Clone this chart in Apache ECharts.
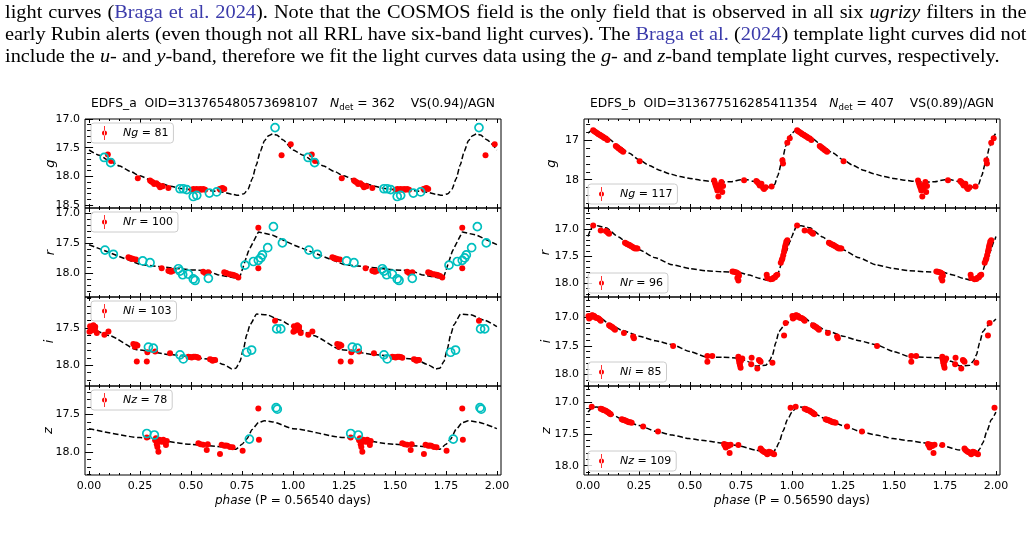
<!DOCTYPE html>
<html>
<head>
<meta charset="utf-8">
<script src="https://cdn.jsdelivr.net/npm/echarts@6/dist/echarts.min.js"></script>
<style>
html, body { margin: 0; padding: 0; background: #fff; width: 1034px; height: 535px; overflow: hidden; }
#chart { position: absolute; left: 0; top: 0; width: 1034px; height: 535px; }
.txt { position: absolute; left: 5px; width: 904px; font-family: 'Liberation Serif', 'DejaVu Serif', serif;
       font-size: 18px; line-height: 22px; color: #000; white-space: nowrap;
       transform: scaleX(1.13); transform-origin: 0 0; }
.j { text-align: justify; text-align-last: justify; }
.c { color: #3b3bab; }
</style>
</head>
<body>
<div id="chart"></div>
<div class="txt j" style="top:1px">light curves (<span class="c">Braga et al. 2024</span>). Note that the COSMOS field is the only field that is observed in all six <i>ugrizy</i> filters in the</div>
<div class="txt j" style="top:23px">early Rubin alerts (even though not all RRL have six-band light curves). The <span class="c">Braga et al.</span> (<span class="c">2024</span>) template light curves did not</div>
<div class="txt" style="top:45px">include the <i>u</i>- and <i>y</i>-band, therefore we fit the light curves data using the <i>g</i>- and <i>z</i>-band template light curves, respectively.</div>
<script>
// ---- phase axis (shared) ----
const PHASE_TICKS = [0, 0.25, 0.5, 0.75, 1, 1.25, 1.5, 1.75, 2];

// ---- EDFS_a, one cycle of phase; plotted twice (phase and phase + 1) ----
const A_G_TICKS = [17.0, 17.5, 18.0, 18.5];
const A_G_TPL = [[0,17.54],[0.05,17.63],[0.1,17.73],[0.15,17.82],[0.2,17.91],[0.25,17.99],[0.3,18.06],[0.35,18.12],[0.4,18.17],[0.45,18.21],[0.5,18.23],[0.55,18.24],[0.6,18.25],[0.65,18.27],[0.7,18.31],[0.73,18.33],[0.76,18.3],[0.78,18.22],[0.8,18.04],[0.82,17.8],[0.84,17.56],[0.86,17.38],[0.88,17.29],[0.9,17.26],[0.92,17.28],[0.95,17.36],[1.0,17.54]];
const A_G_RED = [[0.092,17.62],[0.108,17.73],[0.239,18.03],[0.299,18.07],[0.305,18.09],[0.312,18.1],[0.319,18.13],[0.33,18.12],[0.34,18.15],[0.348,18.19],[0.355,18.17],[0.361,18.17],[0.389,18.2],[0.503,18.23],[0.512,18.22],[0.52,18.23],[0.528,18.22],[0.536,18.23],[0.545,18.22],[0.552,18.23],[0.56,18.22],[0.569,18.23],[0.64,18.22],[0.648,18.21],[0.655,18.2],[0.663,18.22],[0.944,17.63],[0.989,17.44]];
const A_G_CYAN = [[0.074,17.67],[0.106,17.76],[0.446,18.215],[0.462,18.215],[0.479,18.23],[0.511,18.35],[0.528,18.33],[0.59,18.29],[0.626,18.27],[0.912,17.15]];

const A_R_TICKS = [17.0, 17.5, 18.0];
const A_R_TPL = [[0,17.53],[0.25,17.86],[0.5,17.95],[0.58,17.96],[0.63,18.03],[0.71,18.08],[0.74,18.06],[0.78,17.65],[0.83,17.32],[0.9,17.37],[1.0,17.53]];
const A_R_RED = [[0.193,17.74],[0.2,17.75],[0.204,17.76],[0.21,17.76],[0.217,17.77],[0.23,17.775],[0.356,17.92],[0.389,17.965],[0.395,17.97],[0.402,17.98],[0.413,17.965],[0.56,17.98],[0.569,18.0],[0.585,17.99],[0.663,17.99],[0.67,18.0],[0.675,18.005],[0.688,18.02],[0.695,18.025],[0.704,18.03],[0.712,18.04],[0.721,18.05],[0.732,18.075],[0.83,17.25],[0.83,17.92]];
const A_R_CYAN = [[0.078,17.62],[0.119,17.69],[0.263,17.8],[0.299,17.83],[0.438,17.93],[0.446,17.97],[0.459,18.03],[0.487,18.02],[0.511,18.1],[0.52,18.125],[0.585,18.09],[0.765,17.87],[0.806,17.81],[0.83,17.79],[0.842,17.75],[0.85,17.7],[0.876,17.58],[0.904,17.23],[0.948,17.5]];

const A_I_TICKS = [17.5, 18.0];
const A_I_TPL = [[0,17.48],[0.1,17.6],[0.234,17.79],[0.41,17.86],[0.6,17.92],[0.66,17.99],[0.7,18.05],[0.72,18.04],[0.74,17.95],[0.757,17.78],[0.773,17.59],[0.79,17.45],[0.822,17.31],[0.871,17.32],[0.936,17.39],[1.0,17.48]];
const A_I_RED = [[0.002,17.55],[0.005,17.475],[0.01,17.5],[0.013,17.53],[0.021,17.46],[0.029,17.51],[0.03,17.48],[0.038,17.565],[0.075,17.59],[0.095,17.545],[0.217,17.715],[0.225,17.75],[0.23,17.72],[0.237,17.735],[0.234,17.95],[0.283,17.95],[0.286,17.825],[0.324,17.815],[0.397,17.84],[0.487,17.885],[0.495,17.89],[0.503,17.895],[0.512,17.885],[0.52,17.885],[0.528,17.89],[0.536,17.9],[0.593,17.92],[0.6,17.925],[0.606,17.94],[0.612,17.93],[0.618,17.93],[0.912,17.4]];
const A_I_CYAN = [[0.291,17.755],[0.315,17.77],[0.446,17.86],[0.462,17.915],[0.773,17.825],[0.797,17.795],[0.92,17.51],[0.94,17.51]];

const A_Z_TICKS = [17.5, 18.0];
const A_Z_TPL = [[0,17.69],[0.25,17.81],[0.5,17.9],[0.675,17.935],[0.72,17.965],[0.75,17.9],[0.773,17.83],[0.8,17.7],[0.83,17.61],[0.86,17.585],[0.9,17.6],[1.0,17.69]];
const A_Z_RED = [[0.283,17.81],[0.324,17.845],[0.328,17.82],[0.332,17.9],[0.335,17.935],[0.34,18.0],[0.338,17.87],[0.345,17.84],[0.356,17.865],[0.364,17.84],[0.373,17.875],[0.377,17.91],[0.381,17.855],[0.536,17.885],[0.547,17.9],[0.56,17.905],[0.582,17.9],[0.577,17.975],[0.642,18.03],[0.65,17.905],[0.663,17.92],[0.67,17.915],[0.678,17.92],[0.691,17.935],[0.704,17.94],[0.753,17.985],[0.83,17.42],[0.833,17.84]];
const A_Z_CYAN = [[0.283,17.755],[0.32,17.775],[0.786,17.83],[0.917,17.41],[0.923,17.43]];

// ---- EDFS_b ----
const B_G_TICKS = [17, 18];
const B_G_TPL = [[0,16.83],[0.015,16.77],[0.035,16.75],[0.07,16.86],[0.1,16.97],[0.15,17.15],[0.2,17.33],[0.25,17.5],[0.3,17.64],[0.35,17.76],[0.4,17.85],[0.45,17.92],[0.5,17.97],[0.55,18.01],[0.6,18.04],[0.65,18.06],[0.7,18.05],[0.75,18.0],[0.78,18.0],[0.81,18.04],[0.85,18.15],[0.875,18.19],[0.9,18.17],[0.915,18.12],[0.93,17.9],[0.95,17.55],[0.97,17.15],[0.985,16.93],[1.0,16.83]];
const B_G_RED = [[0.025,16.76],[0.03,16.78],[0.038,16.81],[0.045,16.83],[0.051,16.855],[0.057,16.87],[0.062,16.89],[0.068,16.91],[0.074,16.93],[0.08,16.95],[0.087,16.965],[0.095,17.0],[0.136,17.15],[0.142,17.18],[0.149,17.21],[0.155,17.23],[0.16,17.255],[0.166,17.275],[0.172,17.3],[0.253,17.535],[0.618,18.02],[0.622,18.08],[0.626,18.145],[0.63,18.2],[0.634,18.27],[0.639,18.42],[0.643,18.23],[0.647,18.185],[0.65,18.12],[0.654,18.06],[0.658,18.31],[0.662,18.16],[0.765,18.015],[0.825,18.035],[0.83,18.06],[0.835,18.085],[0.84,18.12],[0.842,18.145],[0.85,18.1],[0.858,18.2],[0.863,18.23],[0.871,18.19],[0.9,18.17],[0.953,17.51],[0.956,17.595],[0.977,17.07],[0.989,16.96]];

const B_R_TICKS = [17.0, 17.5, 18.0];
const B_R_TPL = [[0,17.13],[0.01,17.03],[0.022,16.93],[0.045,16.93],[0.087,16.97],[0.15,17.14],[0.2,17.28],[0.25,17.38],[0.33,17.53],[0.413,17.66],[0.5,17.73],[0.577,17.77],[0.66,17.79],[0.74,17.8],[0.79,17.85],[0.838,17.91],[0.88,17.95],[0.905,17.95],[0.928,17.85],[0.95,17.63],[0.97,17.43],[0.99,17.23],[1.0,17.13]];
const B_R_RED = [[0.025,16.925],[0.062,17.02],[0.087,17.03],[0.095,17.05],[0.1,17.065],[0.103,17.08],[0.181,17.25],[0.187,17.26],[0.193,17.275],[0.2,17.285],[0.204,17.295],[0.21,17.31],[0.217,17.325],[0.223,17.34],[0.23,17.355],[0.236,17.35],[0.242,17.355],[0.708,17.785],[0.715,17.79],[0.724,17.8],[0.73,17.81],[0.737,17.825],[0.732,17.905],[0.737,17.95],[0.74,17.865],[0.876,17.845],[0.879,17.905],[0.895,17.93],[0.904,17.925],[0.91,17.9],[0.917,17.89],[0.922,17.86],[0.928,17.845],[0.945,17.62],[0.95,17.57],[0.953,17.54],[0.957,17.48],[0.961,17.415],[0.964,17.37],[0.966,17.325],[0.969,17.28],[0.972,17.23],[0.977,17.2]];

const B_I_TICKS = [17.0, 17.5, 18.0];
const B_I_TPL = [[0,17.03],[0.021,16.965],[0.054,16.99],[0.1,17.11],[0.168,17.23],[0.25,17.33],[0.33,17.41],[0.413,17.48],[0.5,17.6],[0.577,17.69],[0.66,17.7],[0.74,17.71],[0.78,17.77],[0.822,17.85],[0.871,17.84],[0.89,17.76],[0.904,17.66],[0.92,17.45],[0.936,17.25],[0.96,17.15],[0.977,17.1],[1.0,17.03]];
const B_I_RED = [[0.002,16.98],[0.005,17.02],[0.01,16.99],[0.013,17.0],[0.018,16.97],[0.021,16.965],[0.025,16.975],[0.029,16.98],[0.033,16.99],[0.038,17.01],[0.045,17.015],[0.051,17.02],[0.057,17.04],[0.062,17.06],[0.103,17.14],[0.108,17.15],[0.111,17.16],[0.118,17.17],[0.123,17.19],[0.128,17.2],[0.132,17.22],[0.176,17.275],[0.221,17.335],[0.225,17.365],[0.417,17.5],[0.585,17.675],[0.585,17.775],[0.609,17.675],[0.737,17.69],[0.738,17.72],[0.74,17.745],[0.742,17.78],[0.743,17.805],[0.745,17.84],[0.748,17.88],[0.75,17.76],[0.756,17.72],[0.8,17.82],[0.802,17.705],[0.83,17.895],[0.838,17.745],[0.842,17.76],[0.846,17.775],[0.904,17.795],[0.961,17.32],[0.969,17.1]];

const B_Z_TICKS = [17.0, 17.5, 18.0];
const B_Z_TPL = [[0,17.16],[0.021,17.09],[0.04,17.08],[0.062,17.09],[0.1,17.17],[0.168,17.27],[0.25,17.37],[0.332,17.46],[0.413,17.52],[0.495,17.575],[0.577,17.61],[0.658,17.645],[0.74,17.69],[0.822,17.755],[0.904,17.82],[0.92,17.74],[0.936,17.64],[0.957,17.45],[0.977,17.28],[1.0,17.16]];
const B_Z_RED = [[0.018,17.075],[0.062,17.105],[0.068,17.11],[0.074,17.125],[0.08,17.13],[0.087,17.14],[0.093,17.155],[0.1,17.165],[0.105,17.18],[0.111,17.195],[0.165,17.27],[0.17,17.28],[0.176,17.285],[0.182,17.29],[0.188,17.3],[0.195,17.31],[0.201,17.32],[0.207,17.32],[0.214,17.325],[0.27,17.385],[0.343,17.465],[0.667,17.66],[0.67,17.68],[0.675,17.715],[0.678,17.67],[0.683,17.675],[0.688,17.69],[0.694,17.8],[0.699,17.67],[0.737,17.675],[0.846,17.73],[0.85,17.75],[0.855,17.765],[0.862,17.78],[0.868,17.79],[0.874,17.8],[0.879,17.82],[0.887,17.78],[0.892,17.79],[0.895,17.795],[0.905,17.81],[0.912,17.82],[0.993,17.09]];

// ---- layout ----
const FONT = 'DejaVu Sans';
const RED = '#ff0000', CYAN = '#00bfbf';
const X_MIN = -0.02, X_MAX = 2.02;
const GRID_TOP = 119, GRID_H = 89, GRID_W = 416;
const ERR_ICON = 'path://M2.1,0h0.8v14h-0.8z M0,7a2.5,2.5 0 1,0 5,0a2.5,2.5 0 1,0 -5,0z';

const PANELS = [
  { left: 85, legendAt: 'top', period: '0.56540',
    title: '{n|EDFS_a  OID=313765480573698107   }{i|N}{s|det}{n| = 362    VS(0.94)/AGN}',
    subs: [
      { band: 'g', range: [17.0, 18.55], ticks: A_G_TICKS, minor: 0.1, dec: 1, gap: 28, tpl: A_G_TPL, red: A_G_RED, cyan: A_G_CYAN, label: 'Ng = 81', smooth: 0.2 },
      { band: 'r', range: [16.92, 18.4], ticks: A_R_TICKS, minor: 0.1, dec: 1, gap: 28, tpl: A_R_TPL, red: A_R_RED, cyan: A_R_CYAN, label: 'Nr = 100', smooth: false },
      { band: 'i', range: [17.08, 18.28], ticks: A_I_TICKS, minor: 0.1, dec: 1, gap: 29, tpl: A_I_TPL, red: A_I_RED, cyan: A_I_CYAN, label: 'Ni = 103', smooth: 0.2 },
      { band: 'z', range: [17.12, 18.31], ticks: A_Z_TICKS, minor: 0.1, dec: 1, gap: 30, tpl: A_Z_TPL, red: A_Z_RED, cyan: A_Z_CYAN, label: 'Nz = 78', smooth: 0.2 }
    ] },
  { left: 584, legendAt: 'bottom', period: '0.56590',
    title: '{n|EDFS_b  OID=313677516285411354   }{i|N}{s|det}{n| = 407    VS(0.89)/AGN}',
    subs: [
      { band: 'g', range: [16.475, 18.71], ticks: B_G_TICKS, minor: 0.2, dec: 0, gap: 26, tpl: B_G_TPL, red: B_G_RED, cyan: [], label: 'Ng = 117', smooth: 0.2 },
      { band: 'r', range: [16.6, 18.26], ticks: B_R_TICKS, minor: 0.1, dec: 1, gap: 32, tpl: B_R_TPL, red: B_R_RED, cyan: [], label: 'Nr = 96', smooth: 0.2 },
      { band: 'i', range: [16.647, 18.2], ticks: B_I_TICKS, minor: 0.1, dec: 1, gap: 31, tpl: B_I_TPL, red: B_I_RED, cyan: [], label: 'Ni = 85', smooth: 0.2 },
      { band: 'z', range: [16.75, 18.146], ticks: B_Z_TICKS, minor: 0.1, dec: 1, gap: 31, tpl: B_Z_TPL, red: B_Z_RED, cyan: [], label: 'Nz = 109', smooth: 0.2 }
    ] }
];

// phase-folded data are shown over two cycles
function twoCycles(pts) {
  return pts.concat(pts.map(p => [p[0] + 1, p[1]]));
}
function minorTicks(lo, hi, step) {
  const out = [];
  for (let k = Math.ceil(lo / step - 1e-9); k * step <= hi + 1e-9; k++) out.push(+(k * step).toFixed(4));
  return out;
}

const grids = [], xAxes = [], yAxes = [], series = [], legends = [], graphics = [];
const X_MINOR = minorTicks(X_MIN, X_MAX, 0.05);

function tickAxis(base, vals, len) {
  return Object.assign({
    type: 'value',
    axisLine: { show: false },
    splitLine: { show: false },
    axisTick: { show: true, inside: true, length: len, customValues: vals, lineStyle: { color: '#000', width: 1 } },
    axisLabel: { show: false }
  }, base);
}

PANELS.forEach(pn => {
  pn.subs.forEach((sp, si) => {
    const gi = grids.length;
    const top = GRID_TOP + si * GRID_H;
    const isBottom = si === pn.subs.length - 1;
    grids.push({ left: pn.left, top: top, width: GRID_W, height: GRID_H, show: true,
      borderColor: '#000', borderWidth: 1, backgroundColor: 'transparent' });

    // x axes: bottom (main), bottom minor, top, top minor
    const xMain = xAxes.length;
    const xb = tickAxis({ gridIndex: gi, position: 'bottom', min: X_MIN, max: X_MAX }, PHASE_TICKS, 4);
    if (isBottom) {
      xb.axisLabel = { show: true, customValues: PHASE_TICKS, formatter: v => v.toFixed(2), margin: 6,
        color: '#000', fontSize: 11, fontFamily: FONT };
      xb.name = '{i|phase} (P = ' + pn.period + ' days)';
      xb.nameLocation = 'middle';
      xb.nameGap = 20;
      xb.nameMoveOverlap = false;
      xb.nameTextStyle = { color: '#000', fontSize: 12, fontFamily: FONT,
        rich: { i: { fontStyle: 'italic', fontSize: 12, fontFamily: FONT, color: '#000' } } };
    }
    xAxes.push(xb);
    xAxes.push(tickAxis({ gridIndex: gi, position: 'bottom', min: X_MIN, max: X_MAX }, X_MINOR, 2));
    xAxes.push(tickAxis({ gridIndex: gi, position: 'top', min: X_MIN, max: X_MAX }, PHASE_TICKS, 4));
    xAxes.push(tickAxis({ gridIndex: gi, position: 'top', min: X_MIN, max: X_MAX }, X_MINOR, 2));

    // y axes (magnitudes, inverted): left (main), left minor, right, right minor
    const [lo, hi] = sp.range;
    const yMinor = minorTicks(lo, hi, sp.minor);
    const yMain = yAxes.length;
    const yl = tickAxis({ gridIndex: gi, position: 'left', min: lo, max: hi, inverse: true }, sp.ticks, 4);
    yl.axisLabel = { show: true, customValues: sp.ticks, formatter: v => v.toFixed(sp.dec), margin: 5,
      color: '#000', fontSize: 11, fontFamily: FONT };
    yl.name = '{i|' + sp.band + '}';
    yl.nameLocation = 'middle';
    yl.nameGap = sp.gap;
    yl.nameMoveOverlap = false;
    yl.nameTextStyle = { rich: { i: { fontStyle: 'italic', fontSize: 13, fontFamily: FONT, color: '#000' } } };
    yAxes.push(yl);
    yAxes.push(tickAxis({ gridIndex: gi, position: 'left', min: lo, max: hi, inverse: true }, yMinor, 2));
    yAxes.push(tickAxis({ gridIndex: gi, position: 'right', min: lo, max: hi, inverse: true }, sp.ticks, 4));
    yAxes.push(tickAxis({ gridIndex: gi, position: 'right', min: lo, max: hi, inverse: true }, yMinor, 2));

    series.push({
      type: 'line', name: sp.band + '-template-' + gi, xAxisIndex: xMain, yAxisIndex: yMain,
      data: twoCycles(sp.tpl), symbol: 'none', smooth: sp.smooth, smoothMonotone: 'x',
      lineStyle: { color: '#000', width: 1.5, type: [5.5, 2.6] }, z: 2, silent: true
    });
    series.push({
      type: 'scatter', name: sp.label, xAxisIndex: xMain, yAxisIndex: yMain,
      data: twoCycles(sp.red), symbol: 'circle', symbolSize: 6,
      itemStyle: { color: RED, opacity: 1 }, z: 3
    });
    if (sp.cyan.length) {
      series.push({
        type: 'scatter', name: sp.band + '-other-' + gi, xAxisIndex: xMain, yAxisIndex: yMain,
        data: twoCycles(sp.cyan), symbol: 'circle', symbolSize: 8,
        itemStyle: { color: 'rgba(0,0,0,0)', borderColor: CYAN, borderWidth: 1.7, opacity: 1 }, z: 4
      });
    }

    const lg = {
      data: [sp.label], left: pn.left + (pn.legendAt === 'top' ? 6 : 4), orient: 'horizontal',
      icon: ERR_ICON, itemWidth: 5, itemHeight: 14, selectedMode: false,
      padding: [3, 5, 3, 11], borderColor: '#cccccc', borderWidth: 1, borderRadius: 3,
      backgroundColor: 'rgba(255,255,255,0.8)',
      textStyle: { fontSize: 11, fontFamily: FONT, color: '#000', padding: [0, 0, 0, 11],
        rich: { i: { fontStyle: 'italic', fontSize: 11, fontFamily: FONT, color: '#000' } } },
      formatter: n => { const p = n.split(' = '); return '{i|' + p[0] + '} = ' + p[1]; }
    };
    if (pn.legendAt === 'top') lg.top = top + 4;
    else lg.top = top + GRID_H - 4 - 20;
    legends.push(lg);
  });

  graphics.push({
    type: 'text', x: pn.left + GRID_W / 2, y: 104, silent: true,
    style: {
      text: pn.title, align: 'center', verticalAlign: 'middle', fill: '#000',
      rich: {
        n: { fontSize: 12.3, fontFamily: FONT, lineHeight: 16, fill: '#000' },
        i: { fontSize: 12.3, fontFamily: FONT, fontStyle: 'italic', lineHeight: 16, fill: '#000' },
        s: { fontSize: 8.6, fontFamily: FONT, lineHeight: 8, verticalAlign: 'bottom', fill: '#000' }
      }
    }
  });
});

const chart = echarts.init(document.getElementById('chart'), null, { width: 1034, height: 535 });
chart.setOption({
  animation: false,
  backgroundColor: 'transparent',
  grid: grids,
  xAxis: xAxes,
  yAxis: yAxes,
  legend: legends,
  graphic: graphics,
  series: series
});
</script>
</body>
</html>
